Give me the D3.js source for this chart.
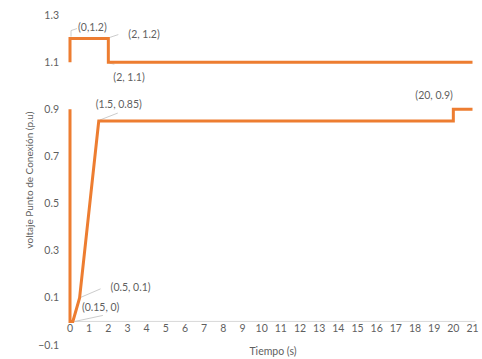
<!DOCTYPE html>
<html><head><meta charset="utf-8">
<script src="https://cdn.jsdelivr.net/npm/d3@7"></script>
<style>body{margin:0;background:#fff}svg{display:block}text{font-family:Lato,"Open Sans",sans-serif;fill:#5f5f5f}</style>
</head><body><svg id="c" width="482" height="359"></svg>
<script>
const xTicks = d3.range(0, 22, 1);
const yTicks = [-0.1, 0.1, 0.3, 0.5, 0.7, 0.9, 1.1, 1.3];
const seriesUpper = [[0,1.1],[0,1.2],[2,1.2],[2,1.1],[21,1.1]];
const seriesLower = [[0,0.9],[0,0],[0.15,0],[0.5,0.1],[1.5,0.85],[20,0.85],[20,0.9],[21,0.9]];
const annPoints = [[0,1.2],[2,1.2],[2,1.1],[1.5,0.85],[20,0.9],[0.5,0.1],[0.15,0]];
const annTexts = ["(0,1.2)","(2, 1.2)","(2, 1.1)","(1.5, 0.85)","(20, 0.9)","(0.5, 0.1)","(0.15, 0)"];
const xTitle = "Tiempo (s)";
const yTitle = "voltaje Punto de Conexión (p.u)";

const svg = d3.select("#c");
const x = d3.scaleLinear().domain([0,21]).range([70,472.5]);
const y = d3.scaleLinear().domain([-0.1,1.3]).range([345,15]);
const orange = "#ED7D31";

svg.append("line").attr("x1",x(0)).attr("x2",x(21)+3).attr("y1",y(0)).attr("y2",y(0))
  .attr("stroke","#d9d9d9").attr("stroke-width",1);

svg.append("g").selectAll("text").data(xTicks).join("text")
  .attr("x",d=>x(d)).attr("y",y(0)+11).attr("text-anchor","middle")
  .attr("font-size",10.5).text(d=>d);

svg.append("g").selectAll("text").data(yTicks).join("text")
  .attr("x",59).attr("y",d=>y(d)+3.5).attr("text-anchor","end")
  .attr("font-size",10.5).text(d=>d3.format(".1f")(d));

svg.append("text").attr("x",273).attr("y",355).attr("text-anchor","middle").attr("font-size",10.5).text(xTitle);
svg.append("text").attr("transform","translate(33,180) rotate(-90)").attr("text-anchor","middle").attr("font-size",10).text(yTitle);

const offs = [[8,-11],[20,-4],[5,15],[-3,-17],[-38,-14],[31,-10],[9,-14]];
const leaders = [
  [[1,-2],[1,-8],[7,-10]],
  [[1,-1],[10,-4]],
  [[1,1],[6,2]],
  [[1,-1],[19,-8]],
  null,
  [[0,0],[21,-9]],
  [[2,0],[30,-6]]
];
annPoints.forEach((p,i)=>{
  const px=x(p[0]), py=y(p[1]);
  if(leaders[i]){
    svg.append("path").attr("d",d3.line()(leaders[i].map(q=>[px+q[0],py+q[1]])))
      .attr("fill","none").attr("stroke","#bfbfbf").attr("stroke-width",0.8);
  }
});

const line = d3.line().x(d=>x(d[0])).y(d=>y(d[1]));
[seriesUpper, seriesLower].forEach(s=>{
  svg.append("path").attr("d",line(s)).attr("fill","none").attr("stroke",orange)
    .attr("stroke-width",3).attr("stroke-linejoin","miter");
});

annPoints.forEach((p,i)=>{
  svg.append("text").attr("x",x(p[0])+offs[i][0]).attr("y",y(p[1])+offs[i][1]+3.5)
    .attr("font-size",10.5).text(annTexts[i]);
});
</script></body></html>
